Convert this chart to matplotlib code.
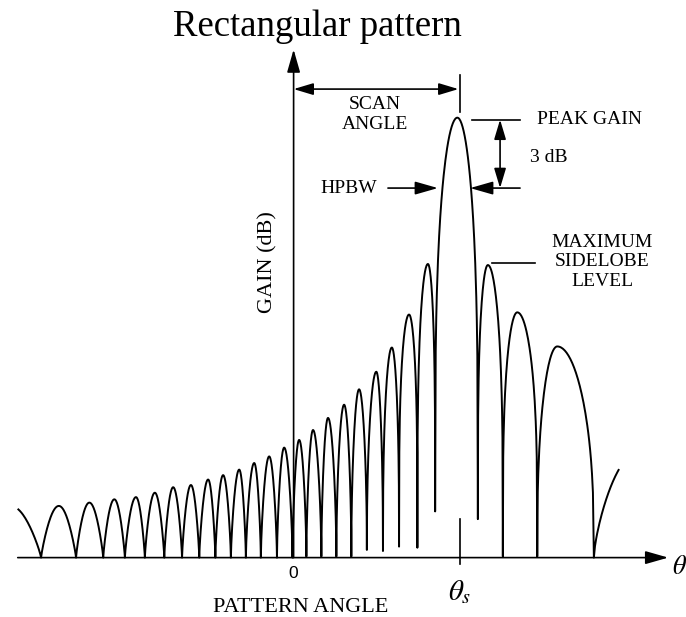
import numpy as np
import matplotlib
matplotlib.use("Agg")
import matplotlib.pyplot as plt

plt.rcParams['font.family'] = ['Liberation Serif', 'DejaVu Serif']
plt.rcParams['mathtext.fontset'] = 'stix'

# pattern: angle in degrees (scan angle = 30), gain in dB
# nulls between lobes
null_deg = [-55.6, -45.5, -39.2, -34.3, -30.4, -26.8, -23.3, -20.1, -17.0, -14.1,
            -11.3, -8.6, -5.9, -3.0, -0.2, 2.3, 5.0, 7.7, 10.4, 13.2, 16.1,
            19.0, 22.3, 25.5, 33.2, 37.7, 43.9, 54.1, 66.0]
null_db = [-40.0, -40.0, -40.0, -40.0, -40.0, -40.0, -40.0, -40.0, -40.0, -40.0,
           -40.0, -40.0, -40.0, -40.0, -40.0, -39.9, -39.9, -39.9, -39.9, -39.3, -39.4,
           -39.0, -39.1, -35.8, -36.5, -39.9, -39.9, -40.0, -40.0]
# lobe tops (one per gap between nulls)
peak_deg = [-51.0, -42.3, -36.8, -32.3, -28.4, -25.0, -21.7, -18.5, -15.4, -12.7,
            -9.8, -7.1, -4.4, -1.7, 1.0, 3.5, 6.2, 9.1, 11.8, 14.9, 17.7,
            20.8, 24.2, 29.5, 35.0, 40.3, 47.5, 62.0]
peak_db = [-35.3, -35.3, -35.0, -34.7, -34.5, -34.1, -33.6, -33.4, -32.9, -32.5,
           -32.0, -31.4, -30.8, -30.0, -29.3, -28.4, -27.3, -26.1, -24.7, -23.1, -20.9,
           -17.9, -13.3, 0.0, -13.4, -17.7, -20.8, -30.5]
angle_start, angle_end = -49.7, 58.6
scan_deg = 30.0
floor_db = -40.0


def half_lobe(xa, ya, xb, yb, p):
    t = np.linspace(0, 1, 40)
    return xa + t * (xb - xa), ya + (yb - ya) * np.sin(np.pi * t / 2) ** p


xs, ys = [], []
for i in range(len(peak_deg)):
    h = peak_db[i] - floor_db
    p = float(np.clip(1.0 - 0.033 * h, 0.28, 1.0))
    x1, y1 = half_lobe(null_deg[i], null_db[i], peak_deg[i], peak_db[i], p)
    x2, y2 = half_lobe(null_deg[i + 1], null_db[i + 1], peak_deg[i], peak_db[i], p)
    xs += [x1, x2[::-1]]
    ys += [y1, y2[::-1]]
xs = np.concatenate(xs)
ys = np.concatenate(ys)
keep = (xs >= angle_start) & (xs <= angle_end)

fig = plt.figure(figsize=(6.86, 6.17), dpi=100)
ax = fig.add_axes([0, 0, 1, 1])
ax.set_xlim(-52.9, 70.7)
ax.set_ylim(-45.4, 10.7)
ax.axis('off')

ax.plot(xs[keep], ys[keep], color='black', lw=1.4)

arrow = dict(arrowstyle='-|>,head_length=0.7,head_width=0.2', color='black',
             lw=1.2, mutation_scale=20, shrinkA=0, shrinkB=0)
arrow2 = dict(arrowstyle='<|-|>,head_length=0.6,head_width=0.18', color='black',
              lw=1.2, mutation_scale=20, shrinkA=0, shrinkB=0)

# axes
ax.annotate('', xy=(67.5, floor_db), xytext=(angle_start, floor_db), arrowprops=arrow)
ax.annotate('', xy=(0, 6.2), xytext=(0, floor_db), arrowprops=arrow)

# scan angle
ax.annotate('', xy=(29.7, 2.6), xytext=(0, 2.6), arrowprops=arrow2)
ax.plot([scan_deg, scan_deg], [3.9, 0.55], color='black', lw=1.2)
ax.plot([scan_deg, scan_deg], [-36.5, -40.6], color='black', lw=1.2)
ax.text(14.7, 0.3, 'SCAN\nANGLE', ha='center', va='center', fontsize=14, linespacing=1.2)

# peak gain / 3 dB
ax.plot([32.2, 40.8], [-0.18, -0.18], color='black', lw=1.2)
ax.annotate('', xy=(37.2, -6.4), xytext=(37.2, -0.18), arrowprops=arrow2)
ax.annotate('', xy=(31.8, -6.4), xytext=(40.8, -6.4), arrowprops=arrow)
ax.text(43.9, -0.2, 'PEAK GAIN', ha='left', va='center', fontsize=14)
ax.text(42.6, -3.6, '3 dB', ha='left', va='center', fontsize=14)

# HPBW
ax.annotate('', xy=(26.0, -6.4), xytext=(17.0, -6.4), arrowprops=arrow)
ax.text(15.0, -6.4, 'HPBW', ha='right', va='center', fontsize=14)

# sidelobe
ax.plot([35.8, 43.5], [-13.2, -13.2], color='black', lw=1.2)
ax.text(55.6, -13.1, 'MAXIMUM\nSIDELOBE\nLEVEL', ha='center', va='center',
        fontsize=14, linespacing=1.2)

# labels
ax.text(4.2, 7.4, 'Rectangular pattern', ha='center', va='baseline', fontsize=26.5)
ax.text(-4.6, -13.1, 'GAIN (dB)', ha='center', va='center', rotation=90, fontsize=16)
ax.text(1.2, -44.5, 'PATTERN ANGLE', ha='center', va='center', fontsize=16)
ax.text(0, -41.4, '0', ha='center', va='center', fontsize=12.5, family='Liberation Sans')
ax.text(scan_deg, -43.1, r'$\theta_s$', ha='center', va='center', fontsize=21)
ax.text(68.1, -40.9, r'$\theta$', ha='left', va='center', fontsize=19)

fig.savefig('out.png', dpi=100)
